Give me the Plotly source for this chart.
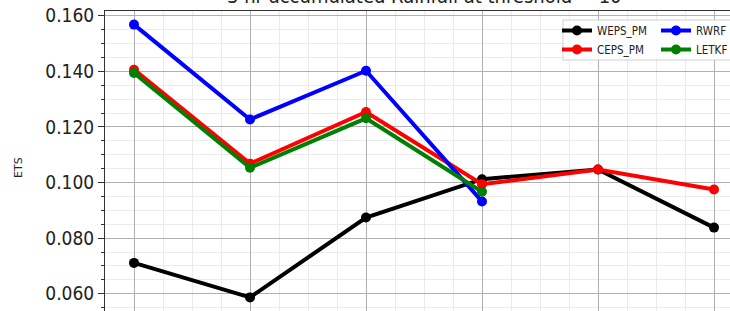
import plotly.graph_objects as go

x_pos = [0, 1, 2, 3, 4, 5]
weps_pm = [0.0711, 0.0587, 0.0874, 0.1012, 0.1047, 0.0838]
ceps_pm = [0.1406, 0.1068, 0.1254, 0.0994, 0.1047, 0.0975]
rwrf = [0.1568, 0.1227, 0.1402, 0.0932]
letkf = [0.1394, 0.1053, 0.1231, 0.0967]
y_ticks = [0.060, 0.080, 0.100, 0.120, 0.140, 0.160]
title_text = "3 hr accumulated Rainfall at threshold = 10"
y_label = "ETS"

W, H = 730, 311
L, T = 105, 11
PW, PH = W - L, H - T
xr = [-0.25, -0.25 + PW / 116.0]
yr = [0.0538, 0.1617]

def px_x(p):
    return (p - L) / PW

def px_y(p):
    return 1 - (p - T) / PH

fig = go.Figure()
series = [
    ("WEPS_PM", x_pos, weps_pm, "#000000", "legend"),
    ("CEPS_PM", x_pos, ceps_pm, "#ff0000", "legend"),
    ("RWRF", x_pos[:4], rwrf, "#0000ff", "legend2"),
    ("LETKF", x_pos[:4], letkf, "#008000", "legend2"),
]
for name, xs, ys, col, lg in series:
    fig.add_trace(go.Scatter(
        x=xs, y=ys, name=name, mode="lines+markers",
        line=dict(color=col, width=4),
        marker=dict(color=col, size=10),
        legend=lg,
    ))

font_main = "DejaVu Sans Condensed, DejaVu Sans, sans-serif"

fig.update_layout(
    width=W, height=H,
    margin=dict(l=L, r=0, t=T, b=0, autoexpand=False),
    paper_bgcolor="white", plot_bgcolor="white",
    showlegend=True,
    legend=dict(x=px_x(557), y=px_y(16), xanchor="left", yanchor="top",
                bgcolor="rgba(0,0,0,0)", borderwidth=0,
                font=dict(family=font_main, size=11.5, color="#222222"),
                tracegroupgap=0),
    legend2=dict(x=px_x(656), y=px_y(16), xanchor="left", yanchor="top",
                 bgcolor="rgba(0,0,0,0)", borderwidth=0,
                 font=dict(family=font_main, size=11.5, color="#222222"),
                 tracegroupgap=0),
    xaxis=dict(range=xr, tickvals=x_pos, showticklabels=False, automargin=False,
               showgrid=True, gridcolor="#b0b0b0", gridwidth=1,
               showline=True, mirror=True, linecolor="#333333", linewidth=1,
               zeroline=False, ticks="",
               minor=dict(dtick=0.25, tick0=0, showgrid=True, gridcolor="#ebebeb", gridwidth=1)),
    yaxis=dict(range=yr, tickvals=y_ticks, tickformat=".3f", automargin=False,
               showgrid=True, gridcolor="#b0b0b0", gridwidth=1,
               showline=True, mirror=True, linecolor="#333333", linewidth=1,
               zeroline=False, ticks="outside", ticklen=6, tickcolor="#333333",
               tickfont=dict(family=font_main, size=19, color="#222222"),
               minor=dict(dtick=0.005, tick0=0, ticks="outside", ticklen=3.5,
                          tickcolor="#333333", showgrid=True, gridcolor="#ebebeb", gridwidth=1)),
    shapes=[dict(type="rect", xref="paper", yref="paper",
                 x0=px_x(563), x1=px_x(760), y0=px_y(60), y1=px_y(20),
                 line=dict(color="#d0d0d0", width=1),
                 fillcolor="rgba(255,255,255,0.85)", layer="above")],
    annotations=[
        dict(text=y_label, xref="paper", yref="paper",
             x=px_x(18), y=px_y(168), xanchor="center", yanchor="middle",
             textangle=-90, showarrow=False,
             font=dict(family="DejaVu Sans, sans-serif", size=11, color="#222222")),
        dict(text=title_text, xref="paper", yref="paper",
             x=px_x(424), y=1, xanchor="center", yanchor="bottom", yshift=1,
             showarrow=False,
             font=dict(family=font_main, size=20, color="#222222")),
    ],
)

fig.write_html("out.html", config={"displayModeBar": False},
               post_script="document.body.style.margin='0';document.body.style.padding='0';document.body.style.overflow='hidden';")
